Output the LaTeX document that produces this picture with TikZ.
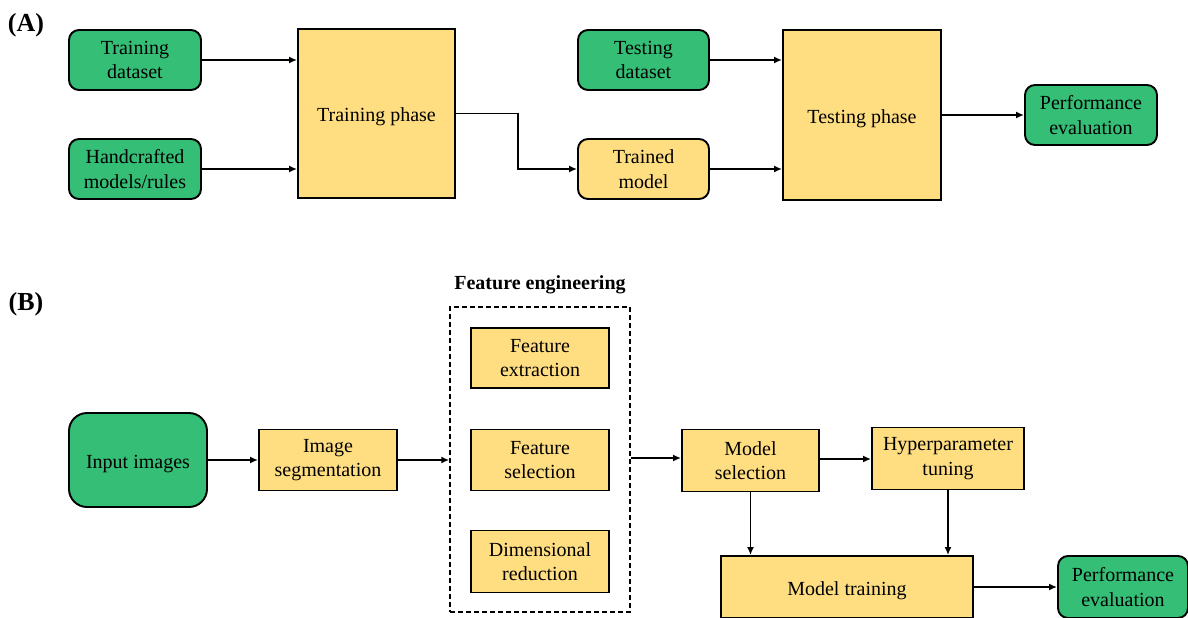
\documentclass[tikz,border=0pt]{standalone}
\usepackage{fontspec}
\setmainfont{Liberation Serif}
\usetikzlibrary{arrows.meta,positioning}

\definecolor{boxgreen}{RGB}{52,190,118}
\definecolor{boxyellow}{RGB}{255,222,130}

\tikzset{
  base/.style={draw=black, line width=1.9pt, align=center, inner sep=0pt,
    font=\fontsize{20}{24.5}\selectfont, text=black},
  greenbox/.style={base, fill=boxgreen, rounded corners=10pt},
  yellowrnd/.style={base, fill=boxyellow, rounded corners=10pt},
  yellowbox/.style={base, fill=boxyellow},
  oneline/.style={text height=16pt, text depth=0pt},
  arr/.style={draw=black, line width=1.8pt, -{Latex[length=8pt,width=7pt]}},
  panel/.style={font=\bfseries\fontsize{26}{30}\selectfont},
  groupbox/.style={draw=black, line width=1.5pt, dash pattern=on 5pt off 3pt},
}

\begin{document}
\begin{tikzpicture}[x=1pt, y=-1pt]
  \useasboundingbox (0,0) rectangle (1188,618);

  % ---------------- (A) classical pipeline ----------------
  \node[panel] (labA) at (26,25) {(A)};

  \node[greenbox, minimum width=132pt, minimum height=60pt] (trd) at (135,60) {Training\\dataset};
  \node[greenbox, minimum width=132pt, minimum height=60pt] (hand) at (135,169) {Handcrafted\\models/rules};
  \node[yellowbox, oneline, minimum width=157pt, minimum height=169pt] (trp) at (376.5,113.5) {Training phase};
  \node[greenbox, minimum width=131pt, minimum height=60pt] (ted) at (643.5,60) {Testing\\dataset};
  \node[yellowrnd, minimum width=131pt, minimum height=60pt] (trm) at (643.5,169) {Trained\\model};
  \node[yellowbox, oneline, minimum width=158pt, minimum height=170pt] (tep) at (862,115) {Testing phase};
  \node[greenbox, minimum width=132pt, minimum height=60pt] (pea) at (1091,115) {Performance\\evaluation};

  \draw[arr] (trd.east) -- (trd.east -| trp.west);
  \draw[arr] (hand.east) -- (hand.east -| trp.west);
  \draw[arr] (trp.east) -- ++(62,0) |- (trm.west);
  \draw[arr] (ted.east) -- (ted.east -| tep.west);
  \draw[arr] (trm.east) -- (trm.east -| tep.west);
  \draw[arr] (tep.east |- pea.west) -- (pea.west);

  % ---------------- (B) feature-engineering pipeline ----------------
  \node[panel] (labB) at (26,304) {(B)};

  \node[greenbox, oneline, rounded corners=18pt, minimum width=138pt, minimum height=94pt] (inp) at (138,460) {Input images};
  \node[yellowbox, minimum width=138pt, minimum height=61pt] (seg) at (328,460) {Image\\segmentation};

  \node[groupbox, minimum width=180pt, minimum height=305pt] (fe) at (540,459.5) {};
  \node[font=\bfseries\fontsize{20}{24}\selectfont] (fetitle) at (540,284.5) {Feature engineering};
  \node[yellowbox, minimum width=138pt, minimum height=60pt] (fx) at (540,358) {Feature\\extraction};
  \node[yellowbox, minimum width=138pt, minimum height=61pt] (fs) at (540,460) {Feature\\selection};
  \node[yellowbox, minimum width=138pt, minimum height=62pt] (dr) at (540,561.5) {Dimensional\\reduction};

  \node[yellowbox, minimum width=137pt, minimum height=62pt] (ms) at (750.5,460.5) {Model\\selection};
  \node[yellowbox, minimum width=152pt, minimum height=62pt] (hp) at (948,458.5) {Hyperparameter\\tuning};
  \node[yellowbox, oneline, minimum width=252pt, minimum height=62pt] (mt) at (847,587) {Model training};
  \node[greenbox, minimum width=130pt, minimum height=62pt] (peb) at (1123,587) {Performance\\evaluation};

  \draw[arr] (inp.east) -- (inp.east -| seg.west);
  \draw[arr] (seg.east) -- (seg.east -| fe.west);
  \draw[arr] (fe.east |- 0,458) -- (ms.west |- 0,458);
  \draw[arr] (ms.east |- 0,459) -- (hp.west |- 0,459);
  \draw[arr] (ms.south) -- (ms.south |- mt.north);
  \draw[arr] (hp.south) -- (hp.south |- mt.north);
  \draw[arr] (mt.east) -- (mt.east -| peb.west);
\end{tikzpicture}
\end{document}
